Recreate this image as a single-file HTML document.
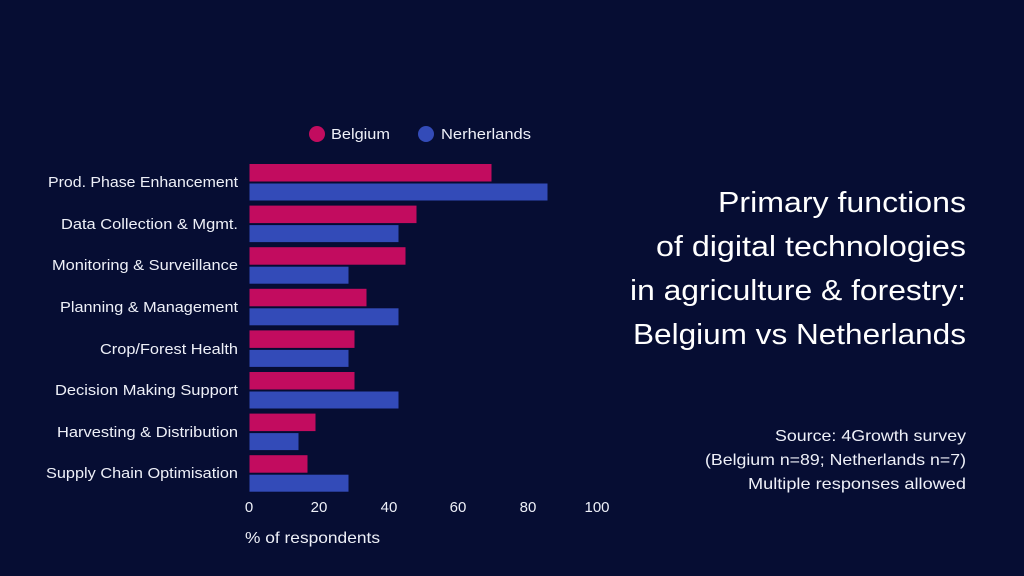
<!DOCTYPE html>
<html><head><meta charset="utf-8"><style>
body{margin:0;background:#060d33;}
svg{display:block;font-family:"Liberation Sans",sans-serif;}
</style></head><body>
<svg width="1024" height="576" viewBox="0 0 1024 576">
<rect width="1024" height="576" fill="#060d33"/>
<g fill="#eef0f8" font-size="15">
<circle cx="317" cy="134" r="8" fill="#c20c5f"/>
<text x="331" y="139" textLength="59" lengthAdjust="spacingAndGlyphs">Belgium</text>
<circle cx="426" cy="134" r="8" fill="#334bb8"/>
<text x="441" y="139" textLength="90" lengthAdjust="spacingAndGlyphs">Nerherlands</text>
</g>
<g stroke="#060d33" stroke-width="1">
<rect x="249" y="163.5" width="243" height="18.5" fill="#c20c5f"/>
<rect x="249" y="183" width="299" height="18" fill="#334bb8"/>
<rect x="249" y="205.1" width="168" height="18.5" fill="#c20c5f"/>
<rect x="249" y="224.6" width="150" height="18" fill="#334bb8"/>
<rect x="249" y="246.7" width="157" height="18.5" fill="#c20c5f"/>
<rect x="249" y="266.2" width="100" height="18" fill="#334bb8"/>
<rect x="249" y="288.3" width="118" height="18.5" fill="#c20c5f"/>
<rect x="249" y="307.8" width="150" height="18" fill="#334bb8"/>
<rect x="249" y="329.9" width="106" height="18.5" fill="#c20c5f"/>
<rect x="249" y="349.4" width="100" height="18" fill="#334bb8"/>
<rect x="249" y="371.5" width="106" height="18.5" fill="#c20c5f"/>
<rect x="249" y="391" width="150" height="18" fill="#334bb8"/>
<rect x="249" y="413.1" width="67" height="18.5" fill="#c20c5f"/>
<rect x="249" y="432.6" width="50" height="18" fill="#334bb8"/>
<rect x="249" y="454.7" width="59" height="18.5" fill="#c20c5f"/>
<rect x="249" y="474.2" width="100" height="18" fill="#334bb8"/>
</g>
<g fill="#eef0f8" font-size="15" text-anchor="end" lengthAdjust="spacingAndGlyphs">
<text x="238" y="187" textLength="190" lengthAdjust="spacingAndGlyphs">Prod. Phase Enhancement</text>
<text x="238" y="229" textLength="177" lengthAdjust="spacingAndGlyphs">Data Collection &amp; Mgmt.</text>
<text x="238" y="270" textLength="186" lengthAdjust="spacingAndGlyphs">Monitoring &amp; Surveillance</text>
<text x="238" y="312" textLength="178" lengthAdjust="spacingAndGlyphs">Planning &amp; Management</text>
<text x="238" y="354" textLength="138" lengthAdjust="spacingAndGlyphs">Crop/Forest Health</text>
<text x="238" y="395" textLength="183" lengthAdjust="spacingAndGlyphs">Decision Making Support</text>
<text x="238" y="437" textLength="181" lengthAdjust="spacingAndGlyphs">Harvesting &amp; Distribution</text>
<text x="238" y="478" textLength="192" lengthAdjust="spacingAndGlyphs">Supply Chain Optimisation</text>
</g>
<g fill="#eef0f8" font-size="15" text-anchor="middle">
<text x="249" y="512">0</text>
<text x="319" y="512">20</text>
<text x="389" y="512">40</text>
<text x="458" y="512">60</text>
<text x="528" y="512">80</text>
<text x="597" y="512">100</text>
</g>
<text x="245" y="543" fill="#eef0f8" font-size="16" textLength="135" lengthAdjust="spacingAndGlyphs">% of respondents</text>
<g fill="#ffffff" font-size="29" text-anchor="end">
<text x="966" y="212" textLength="248" lengthAdjust="spacingAndGlyphs">Primary functions</text>
<text x="966" y="256" textLength="310" lengthAdjust="spacingAndGlyphs">of digital technologies</text>
<text x="966" y="300" textLength="336" lengthAdjust="spacingAndGlyphs">in agriculture &amp; forestry:</text>
<text x="966" y="344" textLength="333" lengthAdjust="spacingAndGlyphs">Belgium vs Netherlands</text>
</g>
<g fill="#eef0f8" font-size="16" text-anchor="end">
<text x="966" y="441" textLength="191" lengthAdjust="spacingAndGlyphs">Source: 4Growth survey</text>
<text x="966" y="465" textLength="261" lengthAdjust="spacingAndGlyphs">(Belgium n=89; Netherlands n=7)</text>
<text x="966" y="489" textLength="218" lengthAdjust="spacingAndGlyphs">Multiple responses allowed</text>
</g>
</svg>
</body></html>
